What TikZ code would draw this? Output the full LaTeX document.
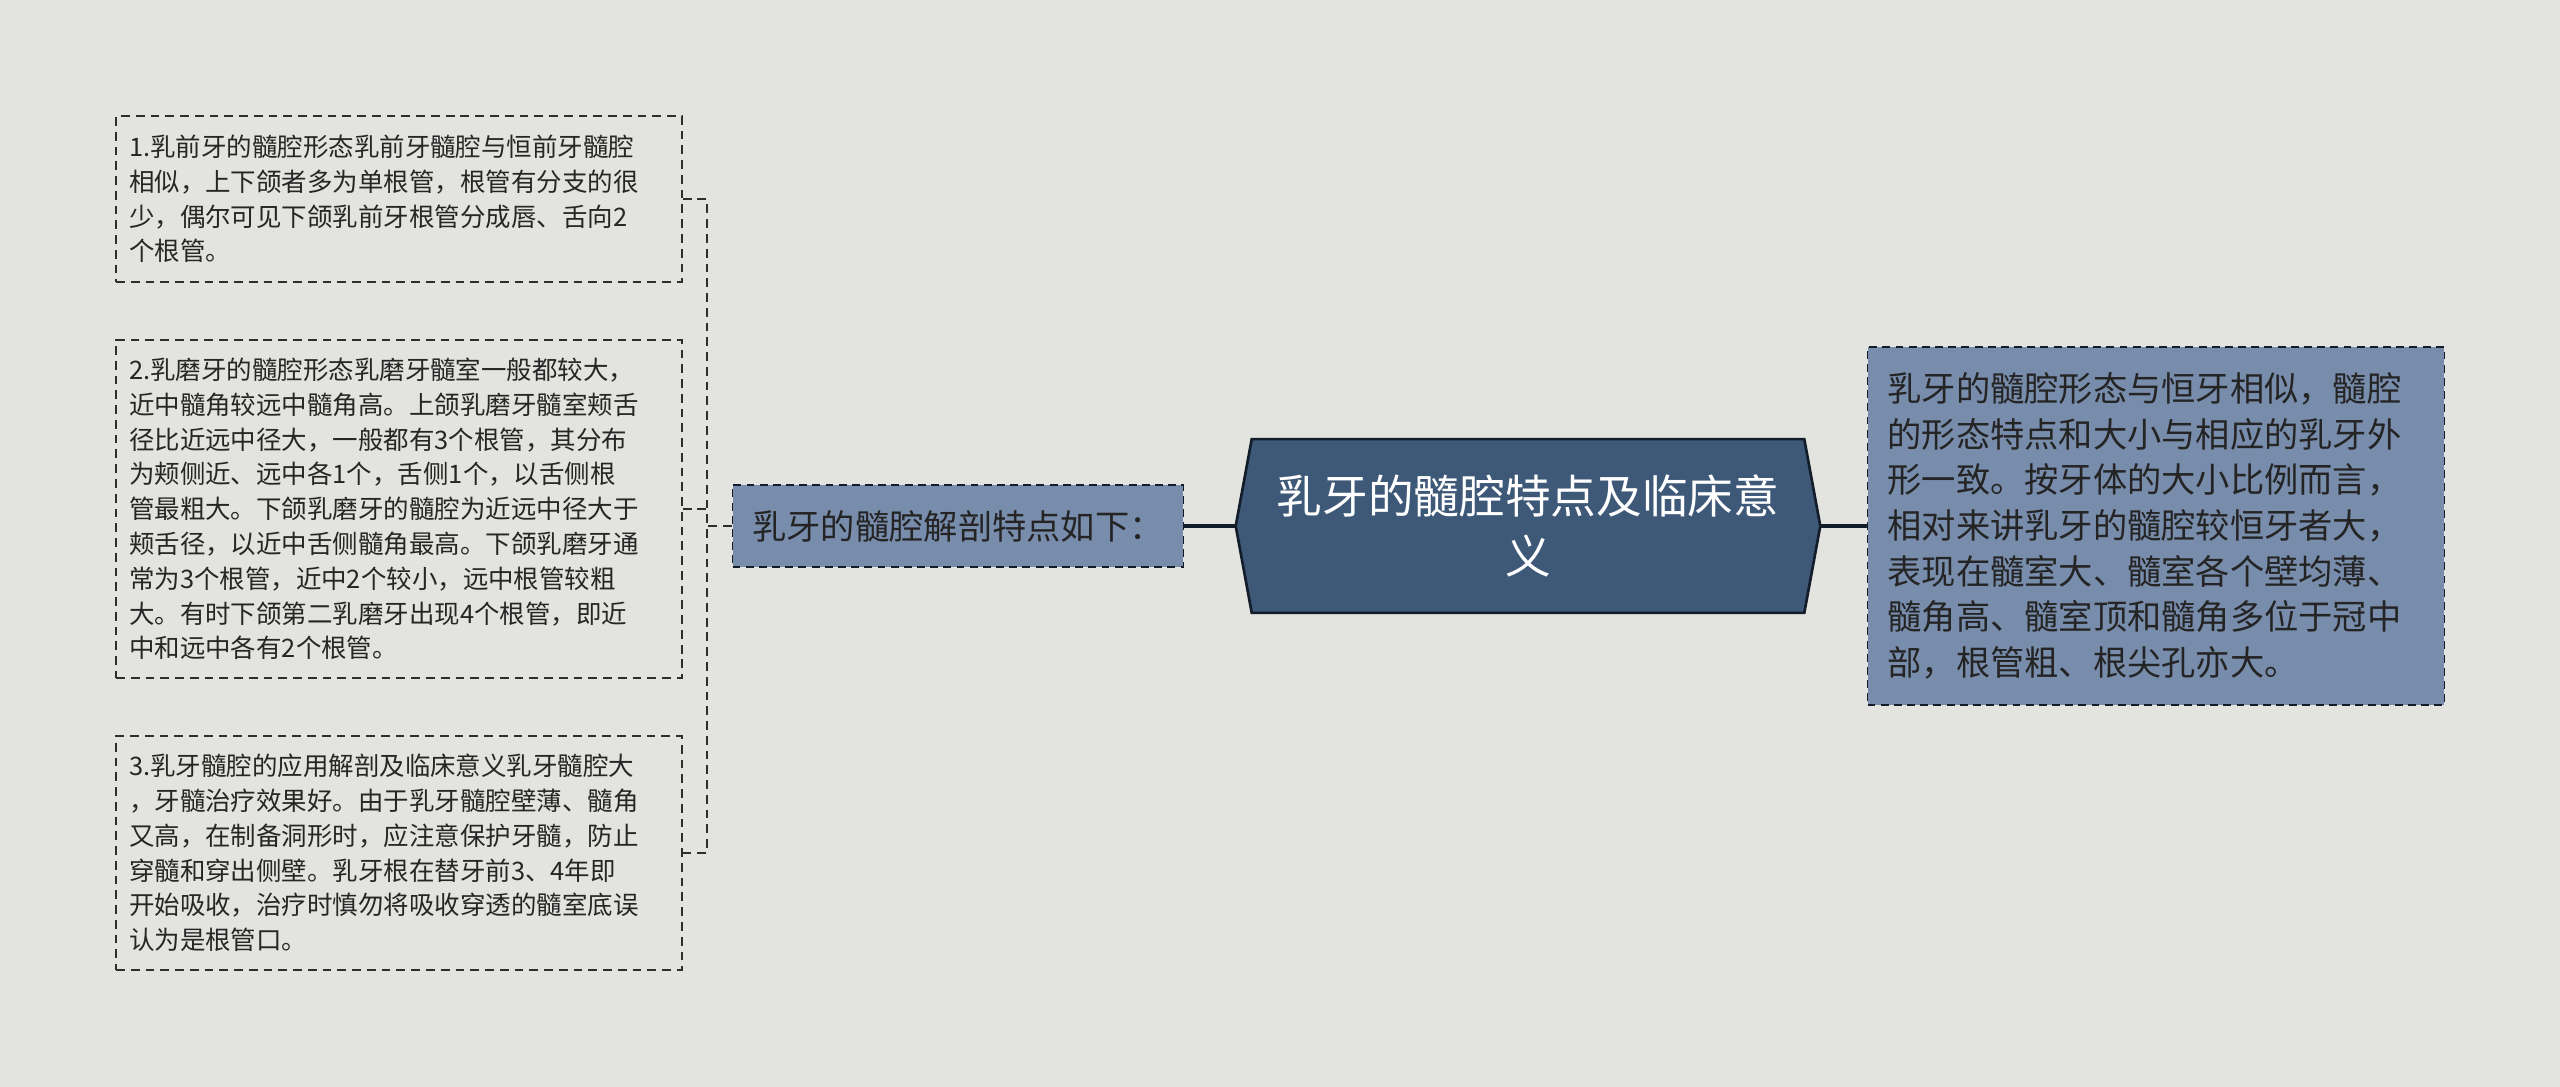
\documentclass[tikz,border=0pt]{standalone}
\usepackage{fontspec}
\setmainfont{Noto Sans CJK SC}
\usetikzlibrary{backgrounds}

\definecolor{bgcol}{HTML}{E3E4E0}
\definecolor{leafline}{HTML}{2E2E2E}
\definecolor{leaftext}{HTML}{262626}
\definecolor{bluefill}{HTML}{788CAB}
\definecolor{bluetext}{HTML}{242424}
\definecolor{rootfill}{HTML}{3E5878}
\definecolor{rootline}{HTML}{131C29}

\begin{document}
\begin{tikzpicture}[x=0.02cm, y=-0.02cm,
    leafbox/.style={draw=leafline, line width=0.9pt, dash pattern=on 5pt off 3.4pt,
      text=leaftext, align=left, text width=10.8cm, inner xsep=0.26cm, inner ysep=0pt,
      font=\fontsize{14.5pt}{19.8pt}\selectfont},
    bluebox/.style={fill=bluefill, draw=rootline, line width=0.9pt, dash pattern=on 4.5pt off 3pt,
      text=bluetext, inner sep=0pt, font=\fontsize{19.5pt}{26pt}\selectfont},
    rootbox/.style={text=white, align=center, inner sep=0pt,
      minimum width=11.04cm, minimum height=3.46cm, font=\fontsize{26pt}{34pt}\selectfont},
    rootframe/.style={fill=rootfill, draw=rootline, line width=1.5pt},
    trunk/.style={draw=rootline, line width=2pt},
    branch/.style={draw=leafline, line width=0.9pt, dash pattern=on 5pt off 3.4pt}]

  \useasboundingbox (0,0) rectangle (2560,1087);

  % Central topic
  \node[rootbox] (root) at (1528,526) {乳牙的髓腔特点及临床意\\义};

  % Left side
  \node[bluebox, minimum width=9.02cm, minimum height=1.64cm] (anat) at (958,526) {乳牙的髓腔解剖特点如下：};

  \node[leafbox, minimum height=3.32cm] (tip1) at (399,199) {1.乳前牙的髓腔形态乳前牙髓腔与恒前牙髓腔\\
    相似，上下颌者多为单根管，根管有分支的很\\
    少，偶尔可见下颌乳前牙根管分成唇、舌向2\\
    个根管。};
  \node[leafbox, minimum height=6.76cm] (tip2) at (399,509) {2.乳磨牙的髓腔形态乳磨牙髓室一般都较大，\\
    近中髓角较远中髓角高。上颌乳磨牙髓室颊舌\\
    径比近远中径大，一般都有3个根管，其分布\\
    为颊侧近、远中各1个，舌侧1个，以舌侧根\\
    管最粗大。下颌乳磨牙的髓腔为近远中径大于\\
    颊舌径，以近中舌侧髓角最高。下颌乳磨牙通\\
    常为3个根管，近中2个较小，远中根管较粗\\
    大。有时下颌第二乳磨牙出现4个根管，即近\\
    中和远中各有2个根管。};
  \node[leafbox, minimum height=4.68cm] (tip3) at (399,853) {3.乳牙髓腔的应用解剖及临床意义乳牙髓腔大\\
    ，牙髓治疗效果好。由于乳牙髓腔壁薄、髓角\\
    又高，在制备洞形时，应注意保护牙髓，防止\\
    穿髓和穿出侧壁。乳牙根在替牙前3、4年即\\
    开始吸收，治疗时慎勿将吸收穿透的髓室底误\\
    认为是根管口。};

  % Right side
  \node[bluebox, align=left, text width=10.74cm, inner xsep=0.4cm, minimum height=7.16cm] (summary) at (2156,526) {乳牙的髓腔形态与恒牙相似，髓腔\\
    的形态特点和大小与相应的乳牙外\\
    形一致。按牙体的大小比例而言，\\
    相对来讲乳牙的髓腔较恒牙者大，\\
    表现在髓室大、髓室各个壁均薄、\\
    髓角高、髓室顶和髓角多位于冠中\\
    部，根管粗、根尖孔亦大。};

  % Links
  \draw[trunk] (anat.east) -- ([xshift=-0.32cm]root.west);
  \draw[trunk] ([xshift=0.32cm]root.east) -- (summary.west);
  \draw[branch] (anat.west) -- ++(-25,0) coordinate (spine);
  \draw[branch] (tip1.east) -| (spine) |- (tip3.east);
  \draw[branch] (tip2.east) -- (tip2.east -| spine);

  \begin{scope}[on background layer]
    \fill[bgcol] (0,0) rectangle (2560,1087);
    \draw[rootframe] (root.north west) -- (root.north east) -- ([xshift=0.32cm]root.east)
      -- (root.south east) -- (root.south west) -- ([xshift=-0.32cm]root.west) -- cycle;
  \end{scope}
\end{tikzpicture}
\end{document}
